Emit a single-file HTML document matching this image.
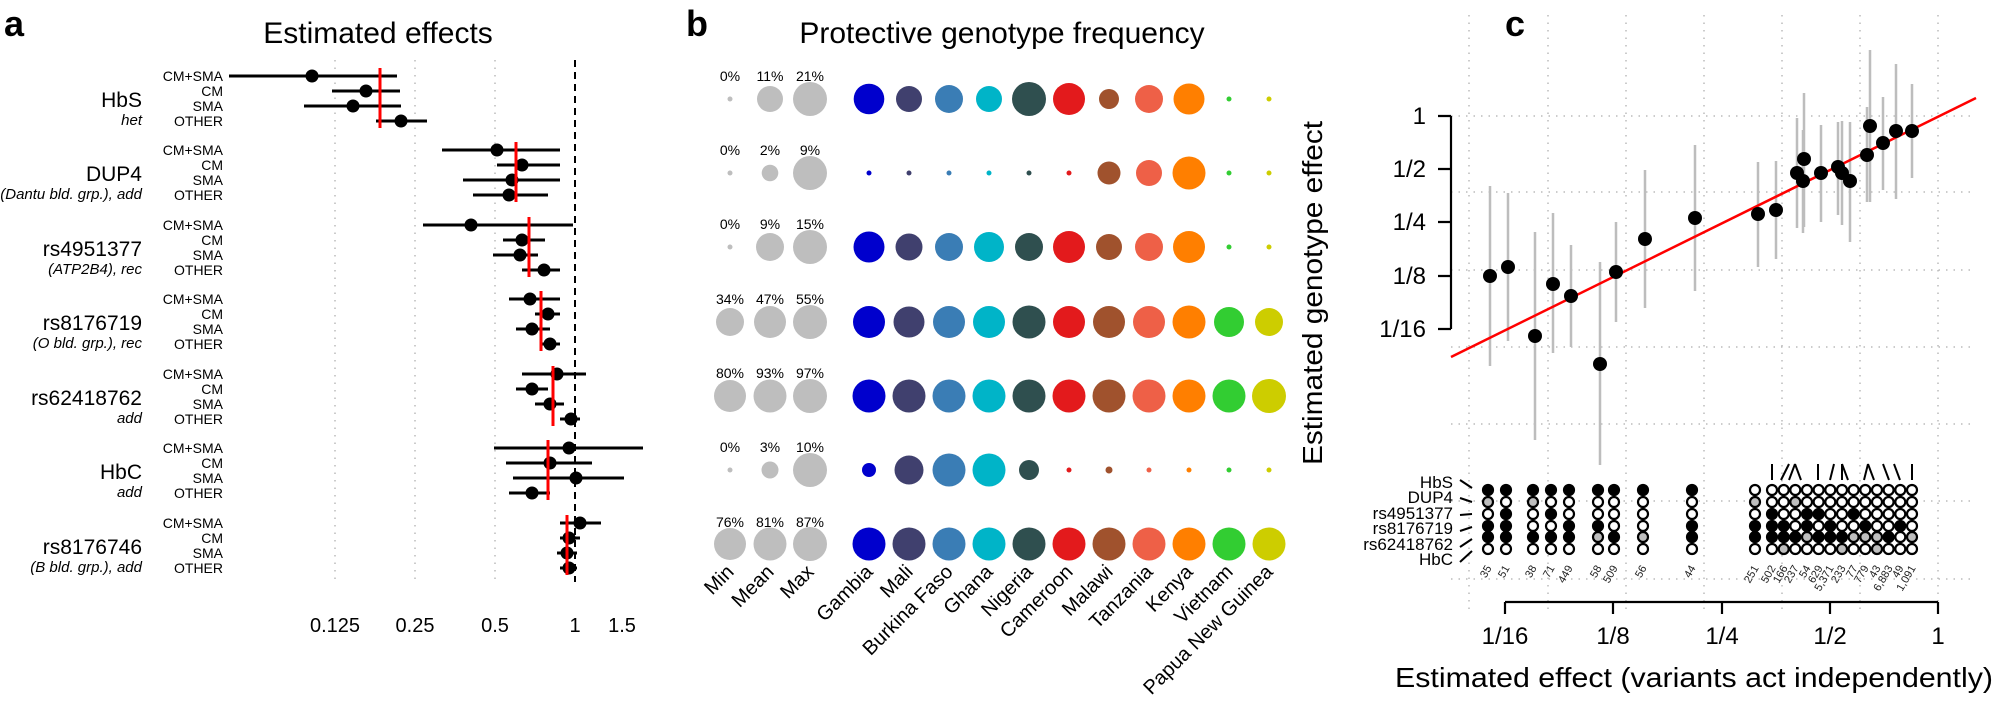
<!DOCTYPE html>
<html><head><meta charset="utf-8"><style>
html,body{margin:0;padding:0;background:#fff;}
svg{display:block;font-family:"Liberation Sans",Arial,sans-serif;}
</style></head><body>
<svg width="1997" height="704" viewBox="0 0 1997 704" xmlns="http://www.w3.org/2000/svg">
<rect width="1997" height="704" fill="#fff"/>

<!-- ===== Panel a ===== -->
<text x="4" y="36" font-size="36" font-weight="bold">a</text>
<text x="378" y="43" font-size="30" text-anchor="middle">Estimated effects</text>
<g stroke="#bbb" stroke-width="1.5" stroke-dasharray="1.5,6">
<line x1="335" y1="60" x2="335" y2="582"/><line x1="415" y1="60" x2="415" y2="582"/><line x1="495" y1="60" x2="495" y2="582"/>
</g>
<line x1="575" y1="60" x2="575" y2="582" stroke="#000" stroke-width="2" stroke-dasharray="7,5"/>
<g font-size="20" text-anchor="middle">
<text x="335" y="632">0.125</text><text x="415" y="632">0.25</text><text x="495" y="632">0.5</text><text x="575" y="632">1</text><text x="622" y="632">1.5</text>
</g>
<!-- group labels -->
<g font-size="21" text-anchor="end">
<text x="142" y="107">HbS</text><text x="142" y="181">DUP4</text><text x="142" y="256">rs4951377</text><text x="142" y="330">rs8176719</text><text x="142" y="405">rs62418762</text><text x="142" y="479">HbC</text><text x="142" y="554">rs8176746</text>
</g>
<g font-size="15" text-anchor="end" font-style="italic">
<text x="142" y="125">het</text><text x="142" y="199">(Dantu bld. grp.), add</text><text x="142" y="274">(ATP2B4), rec</text><text x="142" y="348">(O bld. grp.), rec</text><text x="142" y="423">add</text><text x="142" y="497">add</text><text x="142" y="572">(B bld. grp.), add</text>
</g>
<g font-size="14" text-anchor="end">
<text x="223" y="81">CM+SMA</text><text x="223" y="96">CM</text><text x="223" y="111">SMA</text><text x="223" y="126">OTHER</text>
<text x="223" y="155">CM+SMA</text><text x="223" y="170">CM</text><text x="223" y="185">SMA</text><text x="223" y="200">OTHER</text>
<text x="223" y="230">CM+SMA</text><text x="223" y="245">CM</text><text x="223" y="260">SMA</text><text x="223" y="275">OTHER</text>
<text x="223" y="304">CM+SMA</text><text x="223" y="319">CM</text><text x="223" y="334">SMA</text><text x="223" y="349">OTHER</text>
<text x="223" y="379">CM+SMA</text><text x="223" y="394">CM</text><text x="223" y="409">SMA</text><text x="223" y="424">OTHER</text>
<text x="223" y="453">CM+SMA</text><text x="223" y="468">CM</text><text x="223" y="483">SMA</text><text x="223" y="498">OTHER</text>
<text x="223" y="528">CM+SMA</text><text x="223" y="543">CM</text><text x="223" y="558">SMA</text><text x="223" y="573">OTHER</text>
</g>
<!-- CIs -->
<g stroke="#000" stroke-width="3">
<line x1="229" y1="76" x2="397" y2="76"/><line x1="332" y1="91" x2="400" y2="91"/><line x1="304" y1="106" x2="401" y2="106"/><line x1="376" y1="121" x2="427" y2="121"/>
<line x1="442" y1="150" x2="560" y2="150"/><line x1="497" y1="165" x2="560" y2="165"/><line x1="463" y1="180" x2="560" y2="180"/><line x1="473" y1="195" x2="548" y2="195"/>
<line x1="423" y1="225" x2="573" y2="225"/><line x1="503" y1="240" x2="545" y2="240"/><line x1="493" y1="255" x2="538" y2="255"/><line x1="522" y1="270" x2="560" y2="270"/>
<line x1="509" y1="299" x2="560" y2="299"/><line x1="535" y1="314" x2="560" y2="314"/><line x1="516" y1="329" x2="550" y2="329"/><line x1="541" y1="344" x2="560" y2="344"/>
<line x1="522" y1="374" x2="586" y2="374"/><line x1="516" y1="389" x2="548" y2="389"/><line x1="535" y1="404" x2="564" y2="404"/><line x1="560" y1="419" x2="580" y2="419"/>
<line x1="494" y1="448" x2="643" y2="448"/><line x1="506" y1="463" x2="592" y2="463"/><line x1="513" y1="478" x2="624" y2="478"/><line x1="509" y1="493" x2="550" y2="493"/>
<line x1="560" y1="523" x2="601" y2="523"/><line x1="560" y1="538" x2="580" y2="538"/><line x1="557" y1="553" x2="577" y2="553"/><line x1="560" y1="568" x2="577" y2="568"/>
</g>
<g fill="#000">
<circle cx="312" cy="76" r="6.5"/><circle cx="366" cy="91" r="6.5"/><circle cx="353" cy="106" r="6.5"/><circle cx="401" cy="121" r="6.5"/>
<circle cx="497" cy="150" r="6.5"/><circle cx="522" cy="165" r="6.5"/><circle cx="512" cy="180" r="6.5"/><circle cx="509" cy="195" r="6.5"/>
<circle cx="471" cy="225" r="6.5"/><circle cx="522" cy="240" r="6.5"/><circle cx="520" cy="255" r="6.5"/><circle cx="544" cy="270" r="6.5"/>
<circle cx="530" cy="299" r="6.5"/><circle cx="548" cy="314" r="6.5"/><circle cx="532" cy="329" r="6.5"/><circle cx="550" cy="344" r="6.5"/>
<circle cx="557" cy="374" r="6.5"/><circle cx="532" cy="389" r="6.5"/><circle cx="550" cy="404" r="6.5"/><circle cx="571" cy="419" r="6.5"/>
<circle cx="569" cy="448" r="6.5"/><circle cx="550" cy="463" r="6.5"/><circle cx="576" cy="478" r="6.5"/><circle cx="532" cy="493" r="6.5"/>
<circle cx="580" cy="523" r="6.5"/><circle cx="569" cy="538" r="6.5"/><circle cx="567" cy="553" r="6.5"/><circle cx="569" cy="568" r="6.5"/>
</g>
<g stroke="#f00" stroke-width="3">
<line x1="380" y1="68" x2="380" y2="128"/><line x1="516" y1="142" x2="516" y2="202"/><line x1="529" y1="217" x2="529" y2="277"/><line x1="541" y1="291" x2="541" y2="351"/><line x1="553" y1="366" x2="553" y2="426"/><line x1="548" y1="440" x2="548" y2="500"/><line x1="567" y1="515" x2="567" y2="575"/>
</g>

<!-- ===== Panel b ===== -->
<text x="686" y="36" font-size="36" font-weight="bold">b</text>
<text x="1002" y="43" font-size="30" text-anchor="middle">Protective genotype frequency</text>
<g font-size="14" text-anchor="middle">
<text x="730" y="81">0%</text><text x="770" y="81">11%</text><text x="810" y="81">21%</text>
<text x="730" y="155">0%</text><text x="770" y="155">2%</text><text x="810" y="155">9%</text>
<text x="730" y="229">0%</text><text x="770" y="229">9%</text><text x="810" y="229">15%</text>
<text x="730" y="304">34%</text><text x="770" y="304">47%</text><text x="810" y="304">55%</text>
<text x="730" y="378">80%</text><text x="770" y="378">93%</text><text x="810" y="378">97%</text>
<text x="730" y="452">0%</text><text x="770" y="452">3%</text><text x="810" y="452">10%</text>
<text x="730" y="527">76%</text><text x="770" y="527">81%</text><text x="810" y="527">87%</text>
</g>
<g fill="#bebebe">
<circle cx="730" cy="99" r="2.5"/><circle cx="770" cy="99" r="13"/><circle cx="810" cy="99" r="17"/>
<circle cx="730" cy="173" r="2.5"/><circle cx="770" cy="173" r="8.3"/><circle cx="810" cy="173" r="17"/>
<circle cx="730" cy="247" r="2.5"/><circle cx="770" cy="247" r="14"/><circle cx="810" cy="247" r="17"/>
<circle cx="730" cy="322" r="14"/><circle cx="770" cy="322" r="16"/><circle cx="810" cy="322" r="17"/>
<circle cx="730" cy="396" r="16"/><circle cx="770" cy="396" r="16.5"/><circle cx="810" cy="396" r="17"/>
<circle cx="730" cy="470" r="2.5"/><circle cx="770" cy="470" r="8.5"/><circle cx="810" cy="470" r="17"/>
<circle cx="730" cy="544" r="16"/><circle cx="770" cy="544" r="16.5"/><circle cx="810" cy="544" r="17"/>
</g>
<!-- Gambia 869 -->
<g fill="#0000cd"><circle cx="869" cy="99" r="15.3"/><circle cx="869" cy="173" r="2.5"/><circle cx="869" cy="247" r="15.5"/><circle cx="869" cy="322" r="16"/><circle cx="869" cy="396" r="16.5"/><circle cx="869" cy="470" r="7"/><circle cx="869" cy="544" r="16.5"/></g>
<g fill="#40406e"><circle cx="909" cy="99" r="13"/><circle cx="909" cy="173" r="2.5"/><circle cx="909" cy="247" r="13.5"/><circle cx="909" cy="322" r="15.5"/><circle cx="909" cy="396" r="16.5"/><circle cx="909" cy="470" r="14.5"/><circle cx="909" cy="544" r="16.5"/></g>
<g fill="#3a7db5"><circle cx="949" cy="99" r="14"/><circle cx="949" cy="173" r="2.5"/><circle cx="949" cy="247" r="14"/><circle cx="949" cy="322" r="16"/><circle cx="949" cy="396" r="16.5"/><circle cx="949" cy="470" r="16.5"/><circle cx="949" cy="544" r="16.5"/></g>
<g fill="#00b4c8"><circle cx="989" cy="99" r="13"/><circle cx="989" cy="173" r="2.5"/><circle cx="989" cy="247" r="15"/><circle cx="989" cy="322" r="16"/><circle cx="989" cy="396" r="16.5"/><circle cx="989" cy="470" r="16.5"/><circle cx="989" cy="544" r="16.5"/></g>
<g fill="#2f4f4f"><circle cx="1029" cy="99" r="17"/><circle cx="1029" cy="173" r="2.5"/><circle cx="1029" cy="247" r="14"/><circle cx="1029" cy="322" r="16.5"/><circle cx="1029" cy="396" r="16.5"/><circle cx="1029" cy="470" r="10"/><circle cx="1029" cy="544" r="16.5"/></g>
<g fill="#e31a1c"><circle cx="1069" cy="99" r="16"/><circle cx="1069" cy="173" r="2.5"/><circle cx="1069" cy="247" r="16"/><circle cx="1069" cy="322" r="16"/><circle cx="1069" cy="396" r="16.5"/><circle cx="1069" cy="470" r="2.5"/><circle cx="1069" cy="544" r="16.5"/></g>
<g fill="#a0522d"><circle cx="1109" cy="99" r="10"/><circle cx="1109" cy="173" r="11.5"/><circle cx="1109" cy="247" r="13"/><circle cx="1109" cy="322" r="16"/><circle cx="1109" cy="396" r="16.5"/><circle cx="1109" cy="470" r="3.5"/><circle cx="1109" cy="544" r="16.5"/></g>
<g fill="#ee6047"><circle cx="1149" cy="99" r="14"/><circle cx="1149" cy="173" r="13"/><circle cx="1149" cy="247" r="14"/><circle cx="1149" cy="322" r="16"/><circle cx="1149" cy="396" r="16.5"/><circle cx="1149" cy="470" r="2.5"/><circle cx="1149" cy="544" r="16.5"/></g>
<g fill="#ff7f00"><circle cx="1189" cy="99" r="15.5"/><circle cx="1189" cy="173" r="16.5"/><circle cx="1189" cy="247" r="16"/><circle cx="1189" cy="322" r="16.5"/><circle cx="1189" cy="396" r="16.5"/><circle cx="1189" cy="470" r="2.5"/><circle cx="1189" cy="544" r="16.5"/></g>
<g fill="#32cd32"><circle cx="1229" cy="99" r="2.5"/><circle cx="1229" cy="173" r="2.5"/><circle cx="1229" cy="247" r="2.5"/><circle cx="1229" cy="322" r="15"/><circle cx="1229" cy="396" r="16.5"/><circle cx="1229" cy="470" r="2.5"/><circle cx="1229" cy="544" r="16.5"/></g>
<g fill="#cdcd00"><circle cx="1269" cy="99" r="2.5"/><circle cx="1269" cy="173" r="2.5"/><circle cx="1269" cy="247" r="2.5"/><circle cx="1269" cy="322" r="14"/><circle cx="1269" cy="396" r="17"/><circle cx="1269" cy="470" r="2.5"/><circle cx="1269" cy="544" r="16.5"/></g>
<g font-size="20" text-anchor="end">
<text transform="translate(735,573) rotate(-45)">Min</text>
<text transform="translate(775,573) rotate(-45)">Mean</text>
<text transform="translate(815,573) rotate(-45)">Max</text>
<text transform="translate(874,573) rotate(-45)">Gambia</text>
<text transform="translate(914,573) rotate(-45)">Mali</text>
<text transform="translate(954,573) rotate(-45)">Burkina Faso</text>
<text transform="translate(994,573) rotate(-45)">Ghana</text>
<text transform="translate(1034,573) rotate(-45)">Nigeria</text>
<text transform="translate(1074,573) rotate(-45)">Cameroon</text>
<text transform="translate(1114,573) rotate(-45)">Malawi</text>
<text transform="translate(1154,573) rotate(-45)">Tanzania</text>
<text transform="translate(1194,573) rotate(-45)">Kenya</text>
<text transform="translate(1234,573) rotate(-45)">Vietnam</text>
<text transform="translate(1274,573) rotate(-45)">Papua New Guinea</text>
</g>

<!-- ===== Panel c ===== -->
<text x="1505" y="36" font-size="36" font-weight="bold">c</text>
<g stroke="#bbb" stroke-width="1.5" stroke-dasharray="1.5,6">
<line x1="1469" y1="15" x2="1469" y2="610"/><line x1="1548" y1="15" x2="1548" y2="610"/><line x1="1626" y1="15" x2="1626" y2="610"/><line x1="1704" y1="15" x2="1704" y2="610"/><line x1="1782" y1="15" x2="1782" y2="610"/><line x1="1860" y1="15" x2="1860" y2="610"/><line x1="1938" y1="15" x2="1938" y2="610"/>
<line x1="1451" y1="116" x2="1975" y2="116"/><line x1="1451" y1="192" x2="1975" y2="192"/><line x1="1451" y1="270" x2="1975" y2="270"/><line x1="1451" y1="347" x2="1975" y2="347"/><line x1="1451" y1="424" x2="1975" y2="424"/><line x1="1451" y1="501" x2="1975" y2="501"/><line x1="1451" y1="579" x2="1975" y2="579"/>
</g>
<!-- y axis -->
<g stroke="#000" stroke-width="2.2" fill="none">
<path d="M1451,116 V329"/><path d="M1438,116H1451M1438,169H1451M1438,222H1451M1438,276H1451M1438,329H1451"/>
<path d="M1505,602 H1938"/><path d="M1505,602V614M1613,602V614M1722,602V614M1830,602V614M1938,602V614"/>
</g>
<g font-size="24" text-anchor="end">
<text x="1426" y="124">1</text><text x="1426" y="177">1/2</text><text x="1426" y="230">1/4</text><text x="1426" y="284">1/8</text><text x="1426" y="337">1/16</text>
</g>
<g font-size="24" text-anchor="middle">
<text x="1505" y="644">1/16</text><text x="1613" y="644">1/8</text><text x="1722" y="644">1/4</text><text x="1830" y="644">1/2</text><text x="1938" y="644">1</text>
</g>
<text x="1395" y="687" font-size="28" textLength="598" lengthAdjust="spacingAndGlyphs">Estimated effect (variants act independently)</text>
<text transform="translate(1322,465) rotate(-90)" font-size="28" textLength="344" lengthAdjust="spacingAndGlyphs">Estimated genotype effect</text>
<!-- CIs -->
<g stroke="#bdbdbd" stroke-width="2.5">
<line x1="1490" y1="186" x2="1490" y2="366"/><line x1="1508" y1="193" x2="1508" y2="341"/><line x1="1535" y1="232" x2="1535" y2="440"/><line x1="1553" y1="213" x2="1553" y2="353"/><line x1="1571" y1="245" x2="1571" y2="347"/><line x1="1600" y1="262" x2="1600" y2="465"/><line x1="1616" y1="222" x2="1616" y2="322"/><line x1="1645" y1="170" x2="1645" y2="308"/><line x1="1695" y1="145" x2="1695" y2="291"/><line x1="1758" y1="162" x2="1758" y2="267"/><line x1="1776" y1="161" x2="1776" y2="259"/><line x1="1797" y1="118" x2="1797" y2="228"/><line x1="1804" y1="93" x2="1804" y2="227"/><line x1="1803" y1="130" x2="1803" y2="233"/><line x1="1821" y1="125" x2="1821" y2="222"/><line x1="1838" y1="122" x2="1838" y2="215"/><line x1="1842" y1="121" x2="1842" y2="225"/><line x1="1850" y1="122" x2="1850" y2="242"/><line x1="1867" y1="107" x2="1867" y2="202"/><line x1="1870" y1="50" x2="1870" y2="202"/><line x1="1883" y1="97" x2="1883" y2="190"/><line x1="1896" y1="64" x2="1896" y2="199"/><line x1="1912" y1="84" x2="1912" y2="178"/>
</g>
<line x1="1451" y1="357" x2="1976" y2="98" stroke="#f00" stroke-width="2.5"/>
<g fill="#000">
<circle cx="1490" cy="276" r="7"/><circle cx="1508" cy="267" r="7"/><circle cx="1535" cy="336" r="7"/><circle cx="1553" cy="284" r="7"/><circle cx="1571" cy="296" r="7"/><circle cx="1600" cy="364" r="7"/><circle cx="1616" cy="272" r="7"/><circle cx="1645" cy="239" r="7"/><circle cx="1695" cy="218" r="7"/><circle cx="1758" cy="214" r="7"/><circle cx="1776" cy="210" r="7"/><circle cx="1797" cy="173" r="7"/><circle cx="1804" cy="159" r="7"/><circle cx="1803" cy="181" r="7"/><circle cx="1821" cy="173" r="7"/><circle cx="1838" cy="167" r="7"/><circle cx="1842" cy="173" r="7"/><circle cx="1850" cy="181" r="7"/><circle cx="1867" cy="155" r="7"/><circle cx="1870" cy="126" r="7"/><circle cx="1883" cy="143" r="7"/><circle cx="1896" cy="131" r="7"/><circle cx="1912" cy="131" r="7"/>
</g>
<!-- matrix labels -->
<g font-size="17" text-anchor="end">
<text x="1453" y="488">HbS</text><text x="1453" y="503">DUP4</text><text x="1453" y="519">rs4951377</text><text x="1453" y="534">rs8176719</text><text x="1453" y="550">rs62418762</text><text x="1453" y="565">HbC</text>
</g>
<g stroke="#000" stroke-width="2">
<line x1="1460" y1="480" x2="1472" y2="488"/><line x1="1460" y1="498" x2="1472" y2="502"/><line x1="1460" y1="515" x2="1472" y2="514"/><line x1="1460" y1="531" x2="1472" y2="527"/><line x1="1460" y1="547" x2="1472" y2="539"/><line x1="1460" y1="562" x2="1472" y2="551"/>
</g>
<g stroke="#000" stroke-width="2">
<line x1="1772" y1="464" x2="1772" y2="480"/><line x1="1789" y1="464" x2="1781" y2="480"/><line x1="1795" y1="464" x2="1789" y2="480"/><line x1="1795" y1="464" x2="1801" y2="480"/><line x1="1818" y1="464" x2="1818" y2="480"/><line x1="1834" y1="464" x2="1830" y2="480"/><line x1="1842" y1="464" x2="1842" y2="480"/><line x1="1842" y1="464" x2="1848" y2="480"/><line x1="1868" y1="464" x2="1864" y2="480"/><line x1="1868" y1="464" x2="1874" y2="480"/><line x1="1883" y1="464" x2="1889" y2="480"/><line x1="1894" y1="464" x2="1900" y2="480"/><line x1="1912" y1="464" x2="1912" y2="480"/>
</g>
<!-- matrix circles: B=black, G=gray, O=open -->
<g stroke="#000" stroke-width="2.2">
<!-- c1 1488: B G O B B O -->
<circle cx="1488" cy="490" r="5" fill="#000"/><circle cx="1488" cy="502" r="5" fill="#bebebe"/><circle cx="1488" cy="514" r="5" fill="#fff"/><circle cx="1488" cy="526" r="5" fill="#000"/><circle cx="1488" cy="537" r="5" fill="#000"/><circle cx="1488" cy="549" r="5" fill="#fff"/>
<!-- c2 1506: B O B B B O -->
<circle cx="1506" cy="490" r="5" fill="#000"/><circle cx="1506" cy="502" r="5" fill="#fff"/><circle cx="1506" cy="514" r="5" fill="#000"/><circle cx="1506" cy="526" r="5" fill="#000"/><circle cx="1506" cy="537" r="5" fill="#000"/><circle cx="1506" cy="549" r="5" fill="#fff"/>
<!-- c3 1533: B G O O B O -->
<circle cx="1533" cy="490" r="5" fill="#000"/><circle cx="1533" cy="502" r="5" fill="#bebebe"/><circle cx="1533" cy="514" r="5" fill="#fff"/><circle cx="1533" cy="526" r="5" fill="#fff"/><circle cx="1533" cy="537" r="5" fill="#000"/><circle cx="1533" cy="549" r="5" fill="#fff"/>
<!-- c4 1551: B O B O B O -->
<circle cx="1551" cy="490" r="5" fill="#000"/><circle cx="1551" cy="502" r="5" fill="#fff"/><circle cx="1551" cy="514" r="5" fill="#000"/><circle cx="1551" cy="526" r="5" fill="#fff"/><circle cx="1551" cy="537" r="5" fill="#000"/><circle cx="1551" cy="549" r="5" fill="#fff"/>
<!-- c5 1569: B O O B B O -->
<circle cx="1569" cy="490" r="5" fill="#000"/><circle cx="1569" cy="502" r="5" fill="#fff"/><circle cx="1569" cy="514" r="5" fill="#fff"/><circle cx="1569" cy="526" r="5" fill="#000"/><circle cx="1569" cy="537" r="5" fill="#000"/><circle cx="1569" cy="549" r="5" fill="#fff"/>
<!-- c6 1598: B O O B G O -->
<circle cx="1598" cy="490" r="5" fill="#000"/><circle cx="1598" cy="502" r="5" fill="#fff"/><circle cx="1598" cy="514" r="5" fill="#fff"/><circle cx="1598" cy="526" r="5" fill="#000"/><circle cx="1598" cy="537" r="5" fill="#bebebe"/><circle cx="1598" cy="549" r="5" fill="#fff"/>
<!-- c7 1614: B O O O B O -->
<circle cx="1614" cy="490" r="5" fill="#000"/><circle cx="1614" cy="502" r="5" fill="#fff"/><circle cx="1614" cy="514" r="5" fill="#fff"/><circle cx="1614" cy="526" r="5" fill="#fff"/><circle cx="1614" cy="537" r="5" fill="#000"/><circle cx="1614" cy="549" r="5" fill="#fff"/>
<!-- c8 1643: B O O O G O -->
<circle cx="1643" cy="490" r="5" fill="#000"/><circle cx="1643" cy="502" r="5" fill="#fff"/><circle cx="1643" cy="514" r="5" fill="#fff"/><circle cx="1643" cy="526" r="5" fill="#fff"/><circle cx="1643" cy="537" r="5" fill="#bebebe"/><circle cx="1643" cy="549" r="5" fill="#fff"/>
<!-- c9 1692: B O O B B O -->
<circle cx="1692" cy="490" r="5" fill="#000"/><circle cx="1692" cy="502" r="5" fill="#fff"/><circle cx="1692" cy="514" r="5" fill="#fff"/><circle cx="1692" cy="526" r="5" fill="#000"/><circle cx="1692" cy="537" r="5" fill="#000"/><circle cx="1692" cy="549" r="5" fill="#fff"/>
<!-- c10 1755: O G O B B O -->
<circle cx="1755" cy="490" r="5" fill="#fff"/><circle cx="1755" cy="502" r="5" fill="#bebebe"/><circle cx="1755" cy="514" r="5" fill="#fff"/><circle cx="1755" cy="526" r="5" fill="#000"/><circle cx="1755" cy="537" r="5" fill="#000"/><circle cx="1755" cy="549" r="5" fill="#fff"/>
<!-- c11 1772: O O B B B O -->
<circle cx="1772" cy="490" r="5" fill="#fff"/><circle cx="1772" cy="502" r="5" fill="#fff"/><circle cx="1772" cy="514" r="5" fill="#000"/><circle cx="1772" cy="526" r="5" fill="#000"/><circle cx="1772" cy="537" r="5" fill="#000"/><circle cx="1772" cy="549" r="5" fill="#fff"/>
<!-- c12 1783.7: O O O B B G -->
<circle cx="1783.7" cy="490" r="5" fill="#fff"/><circle cx="1783.7" cy="502" r="5" fill="#fff"/><circle cx="1783.7" cy="514" r="5" fill="#fff"/><circle cx="1783.7" cy="526" r="5" fill="#000"/><circle cx="1783.7" cy="537" r="5" fill="#000"/><circle cx="1783.7" cy="549" r="5" fill="#bebebe"/>
<!-- c13 1795.3: O G O O B O -->
<circle cx="1795.3" cy="490" r="5" fill="#fff"/><circle cx="1795.3" cy="502" r="5" fill="#bebebe"/><circle cx="1795.3" cy="514" r="5" fill="#fff"/><circle cx="1795.3" cy="526" r="5" fill="#fff"/><circle cx="1795.3" cy="537" r="5" fill="#000"/><circle cx="1795.3" cy="549" r="5" fill="#fff"/>
<!-- c14 1807: O O B B G O -->
<circle cx="1807" cy="490" r="5" fill="#fff"/><circle cx="1807" cy="502" r="5" fill="#fff"/><circle cx="1807" cy="514" r="5" fill="#000"/><circle cx="1807" cy="526" r="5" fill="#000"/><circle cx="1807" cy="537" r="5" fill="#bebebe"/><circle cx="1807" cy="549" r="5" fill="#fff"/>
<!-- c15 1818.6: O O B O B O -->
<circle cx="1818.6" cy="490" r="5" fill="#fff"/><circle cx="1818.6" cy="502" r="5" fill="#fff"/><circle cx="1818.6" cy="514" r="5" fill="#000"/><circle cx="1818.6" cy="526" r="5" fill="#fff"/><circle cx="1818.6" cy="537" r="5" fill="#000"/><circle cx="1818.6" cy="549" r="5" fill="#fff"/>
<!-- c16 1830.3: O O O B B O -->
<circle cx="1830.3" cy="490" r="5" fill="#fff"/><circle cx="1830.3" cy="502" r="5" fill="#fff"/><circle cx="1830.3" cy="514" r="5" fill="#fff"/><circle cx="1830.3" cy="526" r="5" fill="#000"/><circle cx="1830.3" cy="537" r="5" fill="#000"/><circle cx="1830.3" cy="549" r="5" fill="#fff"/>
<!-- c17 1842: O O O O B G -->
<circle cx="1842" cy="490" r="5" fill="#fff"/><circle cx="1842" cy="502" r="5" fill="#fff"/><circle cx="1842" cy="514" r="5" fill="#fff"/><circle cx="1842" cy="526" r="5" fill="#fff"/><circle cx="1842" cy="537" r="5" fill="#000"/><circle cx="1842" cy="549" r="5" fill="#bebebe"/>
<!-- c18 1853.6: O O B O G O -->
<circle cx="1853.6" cy="490" r="5" fill="#fff"/><circle cx="1853.6" cy="502" r="5" fill="#fff"/><circle cx="1853.6" cy="514" r="5" fill="#000"/><circle cx="1853.6" cy="526" r="5" fill="#fff"/><circle cx="1853.6" cy="537" r="5" fill="#bebebe"/><circle cx="1853.6" cy="549" r="5" fill="#fff"/>
<!-- c19 1865.3: O O O B G O -->
<circle cx="1865.3" cy="490" r="5" fill="#fff"/><circle cx="1865.3" cy="502" r="5" fill="#fff"/><circle cx="1865.3" cy="514" r="5" fill="#fff"/><circle cx="1865.3" cy="526" r="5" fill="#000"/><circle cx="1865.3" cy="537" r="5" fill="#bebebe"/><circle cx="1865.3" cy="549" r="5" fill="#fff"/>
<!-- c20 1877: O O O O G G -->
<circle cx="1877" cy="490" r="5" fill="#fff"/><circle cx="1877" cy="502" r="5" fill="#fff"/><circle cx="1877" cy="514" r="5" fill="#fff"/><circle cx="1877" cy="526" r="5" fill="#fff"/><circle cx="1877" cy="537" r="5" fill="#bebebe"/><circle cx="1877" cy="549" r="5" fill="#bebebe"/>
<!-- c21 1888.6: O O O O B O -->
<circle cx="1888.6" cy="490" r="5" fill="#fff"/><circle cx="1888.6" cy="502" r="5" fill="#fff"/><circle cx="1888.6" cy="514" r="5" fill="#fff"/><circle cx="1888.6" cy="526" r="5" fill="#fff"/><circle cx="1888.6" cy="537" r="5" fill="#000"/><circle cx="1888.6" cy="549" r="5" fill="#fff"/>
<!-- c22 1900.3: O O O B O O -->
<circle cx="1900.3" cy="490" r="5" fill="#fff"/><circle cx="1900.3" cy="502" r="5" fill="#fff"/><circle cx="1900.3" cy="514" r="5" fill="#fff"/><circle cx="1900.3" cy="526" r="5" fill="#000"/><circle cx="1900.3" cy="537" r="5" fill="#fff"/><circle cx="1900.3" cy="549" r="5" fill="#fff"/>
<!-- c23 1912: O O O O G O -->
<circle cx="1912" cy="490" r="5" fill="#fff"/><circle cx="1912" cy="502" r="5" fill="#fff"/><circle cx="1912" cy="514" r="5" fill="#fff"/><circle cx="1912" cy="526" r="5" fill="#fff"/><circle cx="1912" cy="537" r="5" fill="#bebebe"/><circle cx="1912" cy="549" r="5" fill="#fff"/>
</g>
<!-- counts -->
<g font-size="11" text-anchor="end" fill="#222">
<text transform="translate(1492,568) rotate(-60)">35</text>
<text transform="translate(1510,568) rotate(-60)">51</text>
<text transform="translate(1537,568) rotate(-60)">38</text>
<text transform="translate(1555,568) rotate(-60)">71</text>
<text transform="translate(1573,568) rotate(-60)">449</text>
<text transform="translate(1602,568) rotate(-60)">58</text>
<text transform="translate(1618,568) rotate(-60)">509</text>
<text transform="translate(1647,568) rotate(-60)">56</text>
<text transform="translate(1696,568) rotate(-60)">44</text>
<text transform="translate(1759,568) rotate(-60)">251</text>
<text transform="translate(1776,568) rotate(-60)">502</text>
<text transform="translate(1788,568) rotate(-60)">166</text>
<text transform="translate(1799,568) rotate(-60)">237</text>
<text transform="translate(1811,568) rotate(-60)">54</text>
<text transform="translate(1823,568) rotate(-60)">629</text>
<text transform="translate(1834,568) rotate(-60)">5,371</text>
<text transform="translate(1846,568) rotate(-60)">233</text>
<text transform="translate(1858,568) rotate(-60)">77</text>
<text transform="translate(1869,568) rotate(-60)">779</text>
<text transform="translate(1881,568) rotate(-60)">43</text>
<text transform="translate(1893,568) rotate(-60)">6,883</text>
<text transform="translate(1904,568) rotate(-60)">49</text>
<text transform="translate(1916,568) rotate(-60)">1,091</text>
</g>
</svg>
</body></html>
